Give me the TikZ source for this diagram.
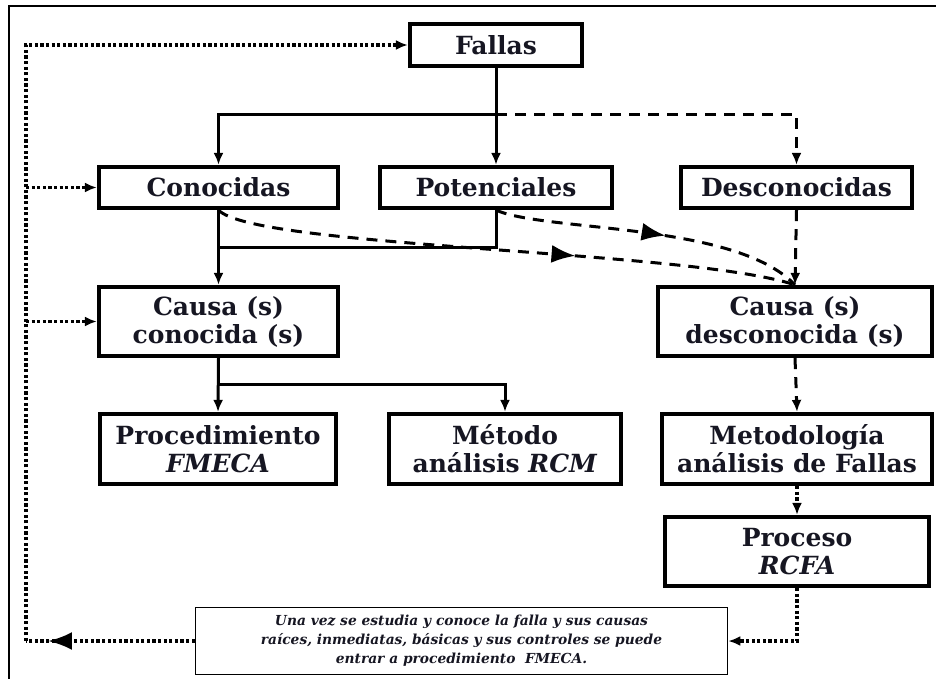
\documentclass[tikz,border=0pt]{standalone}
\usepackage{fontspec}
\setmainfont{DejaVu Serif}
\usetikzlibrary{arrows.meta,decorations.markings}
\definecolor{ink}{RGB}{22,22,34}
\begin{document}
\begin{tikzpicture}[x=1pt,y=-1pt,
  box/.style={draw=black,line width=4.2pt,inner sep=0pt,align=center,
    text=ink,font=\fontsize{25}{28}\selectfont\bfseries},
  note/.style={draw=black,line width=1.6pt,inner sep=0pt,align=center,
    text=ink,font=\fontsize{13.8}{19}\selectfont\bfseries\itshape},
  tip/.style={-{Latex[length=12pt,width=10pt]}},
  solidline/.style={line width=3pt},
  dashline/.style={line width=3pt,dash pattern=on 11pt off 8pt},
  dotline/.style={line width=3.4pt,dash pattern=on 3.2pt off 2.4pt},
  midtip/.style={postaction={decorate},decoration={markings,
    mark=at position #1 with {\arrow{Latex[length=24pt,width=18pt]}}}}
]
\useasboundingbox (0,0) rectangle (936,679);
% frame
\draw[line width=1.8pt] (9,690) -- (9,6) -- (945,6);

% boxes
\node[box,minimum width=172pt,minimum height=42pt] (fal) at (496,45) {Fallas};
\node[box,minimum width=239pt,minimum height=41pt] (con) at (218.5,187.5) {Conocidas};
\node[box,minimum width=232pt,minimum height=41pt] (pot) at (496,187.5) {Potenciales};
\node[box,minimum width=231pt,minimum height=41pt] (des) at (796.5,187.5) {Desconocidas};
\node[box,minimum width=239pt,minimum height=69pt] (cc) at (218.5,321.5) {Causa (s)\\conocida (s)};
\node[box,minimum width=274pt,minimum height=69pt] (cd) at (795,321.5) {Causa (s)\\desconocida (s)};
\node[box,minimum width=236pt,minimum height=70pt] (pro) at (218,449) {Procedimiento\\\textit{FMECA}};
\node[box,minimum width=232pt,minimum height=70pt] (met) at (505,449) {Método\\análisis \textit{RCM}};
\node[box,minimum width=270pt,minimum height=70pt] (mta) at (797,449) {Metodología\\análisis de Fallas};
\node[box,minimum width=264pt,minimum height=69pt] (rcf) at (797,551.5) {Proceso\\\textit{RCFA}};
\node[note,minimum width=532pt,minimum height=67pt] (txt) at (461.5,641)
  {Una vez se estudia y conoce la falla y sus causas\\
   raíces, inmediatas, básicas y sus controles se puede\\
   entrar a procedimiento\ \ FMECA.};

% junction points
\coordinate (jtop) at (496,115);
\coordinate (jmid) at (218,247);
\coordinate (jlow) at (218,384);
\coordinate (lc) at (26,641);
\coordinate (tl) at (26,45);

% solid connectors
\draw[solidline,tip] (fal.south) -- (pot.north);
\draw[solidline,tip] (jtop) -| (con.north);
\draw[solidline] (pot.south) |- (jmid);
\draw[solidline,tip] (con.south) -- (cc.north);
\draw[solidline,tip] (cc.south) -- (pro.north);
\draw[solidline,tip] (jlow) -| (met.north);

% dashed connectors
\draw[dashline,tip] (jtop) -| (des.north);
\draw[dashline,tip] (des.south) -- (cd.north);
\draw[dashline,tip] (cd.south) -- (mta.north);
\draw[dashline,midtip=0.62] (con.south) .. controls (255,248) and (690,250) .. (cd.north);
\draw[dashline,midtip=0.55] (pot.south) .. controls (545,232) and (735,222) .. (cd.north);

% dotted connectors
\draw[dotline,tip] (mta.south) -- (rcf.north);
\draw[dotline,tip] (rcf.south) |- (txt.east);
\draw[dotline,midtip=0.87] (txt.west) -- (lc);
\draw[dotline,tip] (lc) -- (tl) -- (fal.west);
\draw[dotline,tip] (lc |- con.west) -- (con.west);
\draw[dotline,tip] (lc |- cc.west) -- (cc.west);
\end{tikzpicture}
\end{document}
